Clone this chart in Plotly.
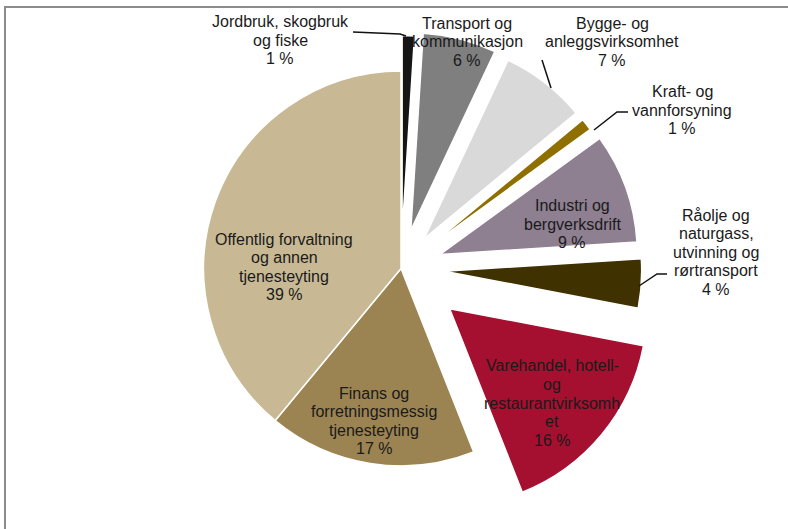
import plotly.graph_objects as go

W, H = 788, 529

# ---- data ----
categories = [
    "Jordbruk, skogbruk og fiske",
    "Transport og kommunikasjon",
    "Bygge- og anleggsvirksomhet",
    "Kraft- og vannforsyning",
    "Industri og bergverksdrift",
    "Råolje og naturgass, utvinning og rørtransport",
    "Varehandel, hotell- og restaurantvirksomhet",
    "Finans og forretningsmessig tjenesteyting",
    "Offentlig forvaltning og annen tjenesteyting",
]
values = [1, 6, 7, 1, 9, 4, 16, 17, 39]
label_lines = [
    ["Jordbruk, skogbruk", "og fiske"],
    ["Transport og", "kommunikasjon"],
    ["Bygge- og", "anleggsvirksomhet"],
    ["Kraft- og", "vannforsyning"],
    ["Industri og", "bergverksdrift"],
    ["Råolje og", "naturgass,", "utvinning og", "rørtransport"],
    ["Varehandel, hotell-", "og", "restaurantvirksomh", "et"],
    ["Finans og", "forretningsmessig", "tjenesteyting"],
    ["Offentlig forvaltning", "og annen", "tjenesteyting"],
]

# ---- styling ----
colors = ["#151515", "#7f7f7f", "#d9d9d9", "#8f6f00", "#8e7f91",
          "#3f3100", "#a51030", "#9c8452", "#c8b994"]
pulls = [0.18, 0.2, 0.19, 0.19, 0.21, 0.22, 0.32, 0, 0]
label_pos = [(280, 40), (467, 42), (612, 42), (682, 110), (572, 224),
             (716, 252), (552, 403), (374, 421), (284, 267)]
leaders = [
    [(353, 32), (400, 34), (406, 36)],
    None,
    [(542, 60), (551, 88)],
    [(628, 112), (617, 112), (594, 130)],
    None,
    [(667, 274), (657, 274), (639, 286)],
    None, None, None,
]
FONT = dict(family="Arial, Liberation Sans, sans-serif", size=16, color="#1a1a1a")
LINE_H = 18.5


def px(x):
    return x / W


def py(y):
    return 1 - y / H


cx = 401
half = 270
fig = go.Figure(go.Pie(
    labels=categories,
    values=values,
    sort=False,
    direction="clockwise",
    rotation=0,
    pull=pulls,
    textinfo="none",
    hoverinfo="label+percent",
    marker=dict(colors=colors, line=dict(color="white", width=1.5)),
    domain=dict(x=[(cx - half) / W, (cx + half) / W], y=[0, 0.985]),
    showlegend=False,
))

annotations = []
for (x, y), lines, v in zip(label_pos, label_lines, values):
    all_lines = lines + [f"{v} %"]
    n = len(all_lines)
    for k, t in enumerate(all_lines):
        yy = y + (k - (n - 1) / 2) * LINE_H
        annotations.append(dict(
            x=px(x), y=py(yy), xref="paper", yref="paper",
            text=t, showarrow=False,
            xanchor="center", yanchor="middle", align="center",
            font=FONT,
        ))

shapes = [dict(type="rect", xref="paper", yref="paper",
               x0=px(5), x1=1.05, y0=-0.05, y1=py(7),
               line=dict(color="#8c8c8c", width=2), fillcolor="rgba(0,0,0,0)")]
for pts in leaders:
    if pts:
        path = "M " + " L ".join(f"{px(x)},{py(y)}" for x, y in pts)
        shapes.append(dict(type="path", xref="paper", yref="paper", path=path,
                           line=dict(color="#111111", width=1.5)))

fig.update_layout(
    width=W, height=H,
    margin=dict(l=0, r=0, t=0, b=0),
    paper_bgcolor="white", plot_bgcolor="white",
    annotations=annotations, shapes=shapes,
)

fig.write_html(
    "out.html",
    config={"displayModeBar": False},
    post_script="document.body.style.margin='0';document.body.style.overflow='hidden';",
)
